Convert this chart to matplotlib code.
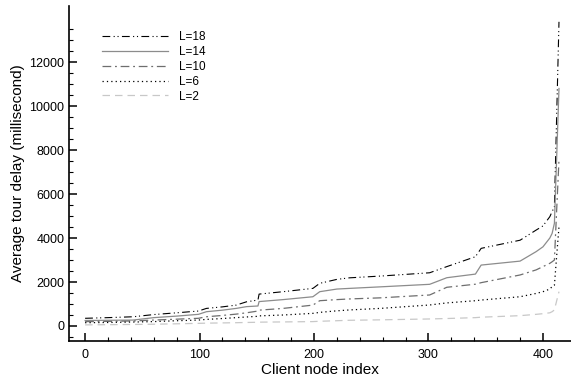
import matplotlib
matplotlib.use("Agg")
import matplotlib.pyplot as plt
from matplotlib.ticker import FixedLocator

plt.rcParams['font.family'] = ['Liberation Sans', 'DejaVu Sans']

# node index (sampled along the sorted curve)
node = [0, 20, 42, 60, 80, 99, 106, 120, 132, 141, 151, 152, 173, 199, 205,
        220, 231, 258, 301, 316, 341, 346, 380, 394, 400, 406, 408, 410, 412, 414]

# average tour delay (ms) per L
delay_L18 = [350, 380, 420, 520, 600, 680, 800, 870, 950, 1100, 1180, 1450, 1560, 1710, 1940,
             2120, 2190, 2270, 2420, 2700, 3150, 3530, 3900, 4360, 4550, 4970, 5200, 5420, 9600, 13830]
delay_L14 = [250, 260, 270, 380, 450, 530, 650, 720, 800, 880, 910, 1110, 1200, 1330, 1560,
             1680, 1710, 1780, 1895, 2195, 2360, 2770, 2950, 3380, 3600, 4000, 4210, 4670, 7700, 10800]
delay_L10 = [200, 210, 230, 270, 310, 350, 420, 480, 540, 600, 680, 720, 800, 950, 1150,
             1200, 1230, 1280, 1410, 1760, 1900, 1970, 2320, 2550, 2700, 2850, 2920, 3000, 5300, 7550]
delay_L6 = [150, 160, 180, 200, 240, 270, 300, 340, 380, 410, 440, 460, 500, 575, 620,
            690, 730, 800, 955, 1050, 1150, 1180, 1330, 1480, 1560, 1680, 1790, 1850, 3200, 4510]
delay_L2 = [50, 60, 70, 80, 100, 120, 130, 140, 150, 160, 170, 175, 185, 200, 215,
            240, 260, 280, 320, 340, 380, 400, 470, 530, 560, 600, 650, 730, 1150, 1560]

x_major = [0, 100, 200, 300, 400]
y_major = [0, 2000, 4000, 6000, 8000, 10000, 12000]

fig = plt.figure(figsize=(5.71, 3.81), dpi=100)
ax = fig.add_axes([0.121, 0.105, 0.879, 0.879])

ax.plot(node, delay_L18, color='black', lw=0.8, ls=(0, (7, 3, 1, 2.5, 1, 3)), label='L=18')
ax.plot(node, delay_L14, color='#8c8c8c', lw=0.9, ls='-', label='L=14')
ax.plot(node, delay_L10, color='#6e6e6e', lw=0.9, ls=(0, (7, 3, 1.5, 3)), label='L=10')
ax.plot(node, delay_L6, color='black', lw=0.9, ls=(0, (1, 2.5)), label='L=6')
ax.plot(node, delay_L2, color='#c8c8c8', lw=0.9, ls=(0, (6, 4)), label='L=2')

ax.set_xlim(-14, 424.5)
ax.set_ylim(-682, 14545)
ax.xaxis.set_major_locator(FixedLocator(x_major))
ax.xaxis.set_minor_locator(FixedLocator([v for v in range(20, 400, 20) if v % 100]))
ax.yaxis.set_major_locator(FixedLocator(y_major))
ax.yaxis.set_minor_locator(FixedLocator([v for v in range(-500, 14000, 500) if v % 2000]))

for s in ['top', 'right']:
    ax.spines[s].set_visible(False)
for s in ['left', 'bottom']:
    ax.spines[s].set_linewidth(1.2)

ax.tick_params(which='major', direction='in', length=5.5, width=1.1, labelsize=9)
ax.tick_params(which='minor', direction='in', length=3, width=0.8)
ax.tick_params(axis='x', pad=6)

ax.set_xlabel('Client node index', fontsize=11, labelpad=1)
ax.set_ylabel('Average tour delay (millisecond)', fontsize=11, labelpad=3)

ax.legend(loc='upper left', bbox_to_anchor=(0.045, 0.958), frameon=False, fontsize=8.5,
          handlelength=5.6, handletextpad=0.9, labelspacing=0.25)

fig.savefig('out.png', dpi=100)
